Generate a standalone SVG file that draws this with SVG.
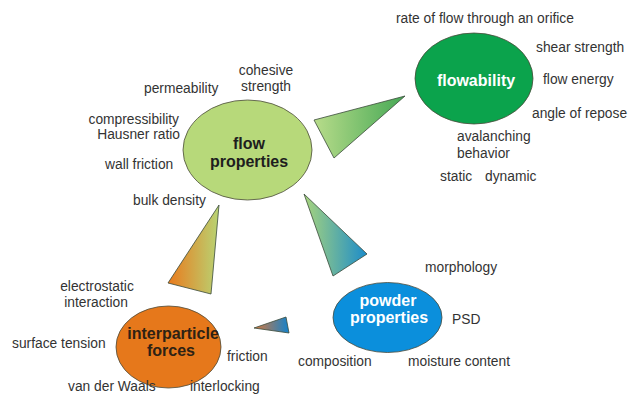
<svg xmlns="http://www.w3.org/2000/svg" width="629" height="394" viewBox="0 0 629 394">
<defs>
<style>
.lbl{font-family:"Liberation Sans",Arial,sans-serif;font-size:13.8px;fill:#333}
.ttl{font-family:"Liberation Sans",Arial,sans-serif;font-size:16px;font-weight:bold;text-anchor:middle}
.ell{stroke:#4a4a3a;stroke-width:0.8}
.tri{stroke:#3a4a3a;stroke-width:0.8}
</style>
<linearGradient id="g1" x1="0" y1="0" x2="1" y2="0"><stop offset="0" stop-color="#b8dc8a"/><stop offset="1" stop-color="#45a855"/></linearGradient>
<linearGradient id="g2" x1="0" y1="0" x2="1" y2="0"><stop offset="0" stop-color="#a8d47c"/><stop offset="1" stop-color="#1c8cca"/></linearGradient>
<linearGradient id="g3" x1="0" y1="0" x2="1" y2="0"><stop offset="0" stop-color="#ea7a1c"/><stop offset="1" stop-color="#b8d474"/></linearGradient>
<linearGradient id="g4" x1="0" y1="0" x2="1" y2="0"><stop offset="0" stop-color="#d8783a"/><stop offset="1" stop-color="#1482cc"/></linearGradient>
</defs>
<rect width="629" height="394" fill="#fff"/>
<g id="connectors">
<polygon class="tri" points="314,120 405,96 334,158" fill="url(#g1)"/>
<polygon class="tri" points="304,194 367,254 333,276" fill="url(#g2)"/>
<polygon class="tri" points="219,205 168,283 211,294" fill="url(#g3)"/>
<polygon class="tri" points="254,328 286,317 289,333" fill="url(#g4)"/>
</g>
<g id="flow-properties">
<ellipse class="ell" cx="247.5" cy="150" rx="64.5" ry="50" fill="#b7d97a"/>
<text class="ttl" x="249" y="149" fill="#1e1e1e">flow</text>
<text class="ttl" x="249" y="167" fill="#1e1e1e">properties</text>
<text class="lbl" x="266" y="75" text-anchor="middle">cohesive</text>
<text class="lbl" x="266" y="91" text-anchor="middle">strength</text>
<text class="lbl" x="144" y="93">permeability</text>
<text class="lbl" x="179" y="124" text-anchor="end">compressibility</text>
<text class="lbl" x="180" y="139" text-anchor="end">Hausner ratio</text>
<text class="lbl" x="105" y="169">wall friction</text>
<text class="lbl" x="133" y="205">bulk density</text>
</g>
<g id="flowability">
<ellipse class="ell" cx="474" cy="78.5" rx="59" ry="45.5" fill="#0ba34c"/>
<text class="ttl" x="476" y="86" fill="#fff">flowability</text>
<text class="lbl" x="396" y="23">rate of flow through an orifice</text>
<text class="lbl" x="536" y="52">shear strength</text>
<text class="lbl" x="543" y="84">flow energy</text>
<text class="lbl" x="532" y="118">angle of repose</text>
<text class="lbl" x="457" y="141">avalanching</text>
<text class="lbl" x="457" y="158">behavior</text>
<text class="lbl" x="440" y="181">static</text>
<text class="lbl" x="485" y="181">dynamic</text>
</g>
<g id="powder-properties">
<ellipse class="ell" cx="387.5" cy="317.5" rx="54.5" ry="35" fill="#0b8fdc"/>
<text class="ttl" x="388" y="306" fill="#fff">powder</text>
<text class="ttl" x="389" y="323" fill="#fff">properties</text>
<text class="lbl" x="425" y="272">morphology</text>
<text class="lbl" x="452" y="324">PSD</text>
<text class="lbl" x="298" y="366">composition</text>
<text class="lbl" x="408" y="366">moisture content</text>
</g>
<g id="interparticle-forces">
<ellipse class="ell" cx="168.5" cy="347" rx="52.5" ry="41" fill="#e6781b"/>
<text class="ttl" x="173" y="339" fill="#2e2214">interparticle</text>
<text class="ttl" x="171" y="356" fill="#2e2214">forces</text>
<text class="lbl" x="97" y="291" text-anchor="middle">electrostatic</text>
<text class="lbl" x="96" y="307" text-anchor="middle">interaction</text>
<text class="lbl" x="12" y="348">surface tension</text>
<text class="lbl" x="227" y="361">friction</text>
<text class="lbl" x="68" y="391">van der Waals</text>
<text class="lbl" x="190" y="391">interlocking</text>
</g>
</svg>
